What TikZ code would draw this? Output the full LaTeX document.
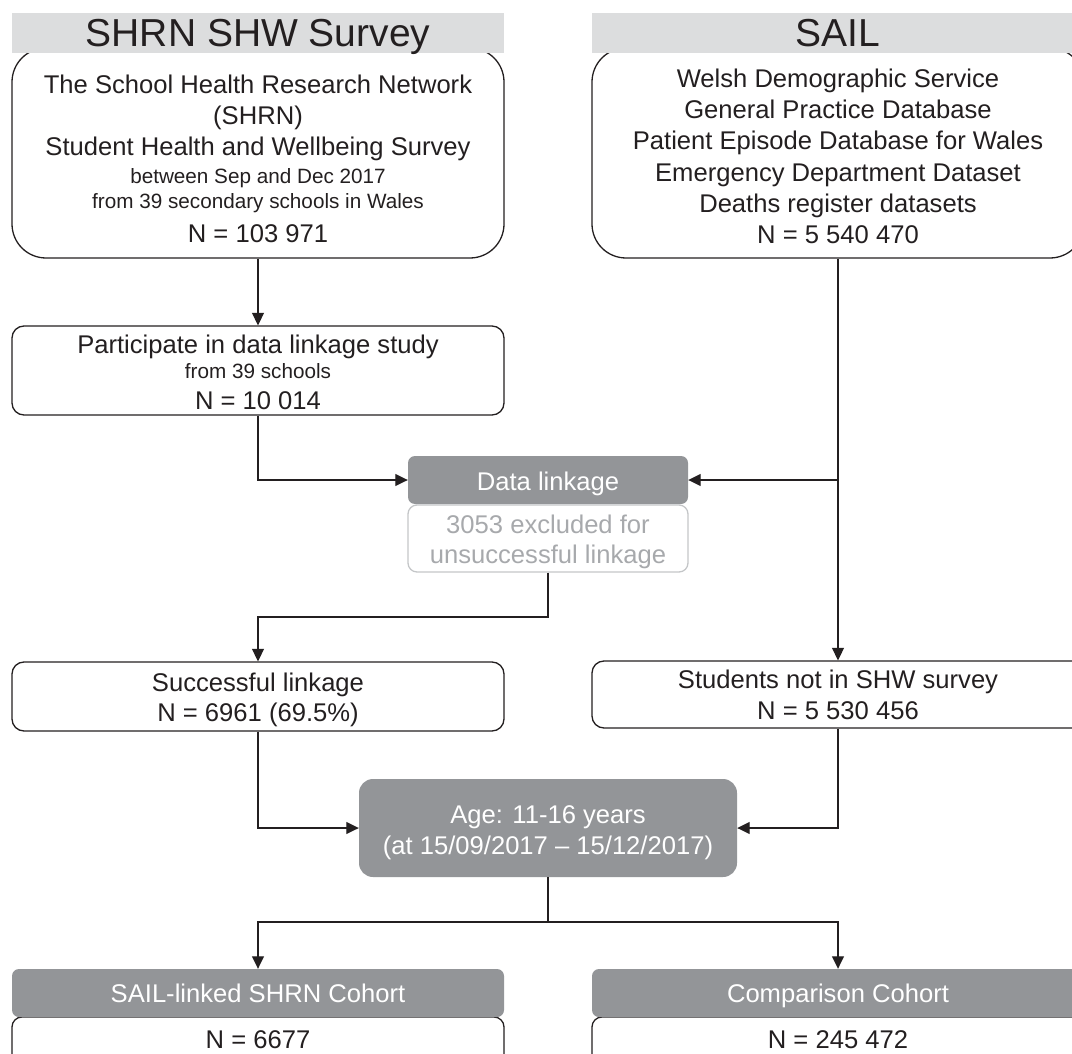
\documentclass[tikz,border=0pt]{standalone}
\usepackage{fontspec}
\setmainfont{Liberation Sans}
\usetikzlibrary{arrows.meta}
\definecolor{hdrgray}{HTML}{DCDDDE}
\definecolor{boxdark}{HTML}{939598}
\definecolor{exgray}{HTML}{A7A9AC}
\definecolor{exborder}{HTML}{C4C6C8}
\definecolor{ink}{HTML}{231F20}
\newcommand\bodyfont{\fontsize{25.6}{31}\selectfont}
\newcommand\sailfont{\fontsize{25.6}{31.2}\selectfont}
\newcommand\smallfont{\fontsize{20.7}{25}\selectfont}
\newcommand\hdrfont{\fontsize{39}{42}\selectfont}
\tikzset{
  whitebox/.style={draw=ink, line width=1.3pt, minimum width=492pt, inner sep=0pt, rounded corners=12pt},
  topbox/.style={whitebox, rounded corners=34pt, minimum height=210pt},
  hdrbox/.style={fill=hdrgray, minimum width=492pt, minimum height=40pt, inner sep=0pt},
  darkbox/.style={fill=boxdark, inner sep=0pt, rounded corners=7pt},
  exstyle/.style={draw=exborder, line width=1.3pt, inner sep=0pt, rounded corners=9pt},
  txt/.style={align=center, inner sep=0pt, text=ink, font=\bodyfont},
  wtxt/.style={txt, text=white},
  hdrtxt/.style={inner sep=0pt, text=ink, font=\hdrfont},
  arr/.style={draw=ink, line width=1.3pt, -{Triangle[length=12.5pt,width=12pt]}},
  ln/.style={draw=ink, line width=1.3pt},
}
\begin{document}
\begin{tikzpicture}[x=1pt,y=-1pt]
\useasboundingbox (0,0) rectangle (1072,1054);
\clip (0,0) rectangle (1072,1054);
% top boxes
\node[topbox] (shrnbox) at (258,153) {};
\node[topbox] (sailbox) at (838,153) {};
\node[hdrbox] (shrnhdr) at (258,33) {};
\node[hdrbox] (sailhdr) at (838,33) {};
\node[hdrtxt, anchor=base] (shrnhdrt) at (258,47) {SHRN SHW Survey};
\node[hdrtxt, anchor=base] (sailhdrt) at (838,47) {SAIL};
\node[txt, anchor=north] (shrnt) at (258,74.7) {The School Health Research Network\\[0.5pt]
(SHRN)\\
Student Health and Wellbeing Survey\\[-3pt]
{\smallfont between Sep and Dec 2017}\\[-6.5pt]
{\smallfont from 39 secondary schools in Wales}\\[3pt]
N = 103 971};
\node[txt, font=\sailfont, anchor=north] (sailt) at (838,68.7) {Welsh Demographic Service\\
General Practice Database\\
Patient Episode Database for Wales\\
Emergency Department Dataset\\
Deaths register datasets\\
N = 5 540 470};
% participate
\node[whitebox, minimum height=89pt] (partbox) at (258,370.5) {};
\node[txt, anchor=north] (partt) at (258,335.2) {Participate in data linkage study\\[-6pt]
{\smallfont from 39 schools}\\[-0.5pt]
N = 10 014};
% data linkage
\node[darkbox, minimum width=280pt, minimum height=48pt] (dlbox) at (548,480) {};
\node[wtxt, anchor=base] (dlt) at (548,490) {Data linkage};
\node[exstyle, minimum width=280pt, minimum height=67pt] (exbox) at (548,538.5) {};
\node[txt, text=exgray, anchor=north] (ext) at (548,514.4) {3053 excluded for\\[-1pt]
unsuccessful linkage};
% successful / students
\node[whitebox, minimum height=69pt] (succbox) at (258,696.5) {};
\node[txt, anchor=north] (succt) at (258,672.4) {Successful linkage\\[-1pt]
N = 6961 (69.5\%)};
\node[whitebox, minimum height=67pt] (studbox) at (838,694.5) {};
\node[txt, anchor=north] (studt) at (838,669.7) {Students not in SHW survey\\
N = 5 530 456};
% age
\node[darkbox, rounded corners=14pt, minimum width=378pt, minimum height=98pt] (agebox) at (548,828) {};
\node[wtxt, anchor=north] (aget) at (548,805) {Age: 11-16 years\\[0.6pt]
(at 15/09/2017 – 15/12/2017)};
% cohorts
\node[whitebox, rounded corners=10pt, minimum height=80pt] (shrnn) at (258,1057) {};
\node[whitebox, rounded corners=10pt, minimum height=80pt] (compn) at (838,1057) {};
\node[darkbox, minimum width=492pt, minimum height=48pt] (shrncoh) at (258,993) {};
\node[darkbox, minimum width=492pt, minimum height=48pt] (compcoh) at (838,993) {};
\node[wtxt, anchor=base] (shrncoht) at (258,1002.7) {SAIL-linked SHRN Cohort};
\node[wtxt, anchor=base] (compcoht) at (838,1002.7) {Comparison Cohort};
\node[txt, anchor=base] (shrnnt) at (258,1048.3) {N = 6677};
\node[txt, anchor=base] (compnt) at (838,1048.3) {N = 245 472};
% connectors
\coordinate (sj) at (sailbox.south |- dlbox.east);
\coordinate (ex1) at (548,617);
\coordinate (sp) at (548,922);
\draw[arr] (shrnbox.south) -- (partbox.north);
\draw[arr] (partbox.south) |- (dlbox.west);
\draw[arr] (sailbox.south) -- (studbox.north);
\draw[arr] (sj) -- (dlbox.east);
\draw[arr] (exbox.south) -- (ex1) -| (succbox.north);
\draw[arr] (succbox.south) |- (agebox.west);
\draw[arr] (studbox.south) |- (agebox.east);
\draw[ln] (agebox.south) -- (sp);
\draw[arr] (sp) -| (shrncoh.north);
\draw[arr] (sp) -| (compcoh.north);
\end{tikzpicture}
\end{document}
